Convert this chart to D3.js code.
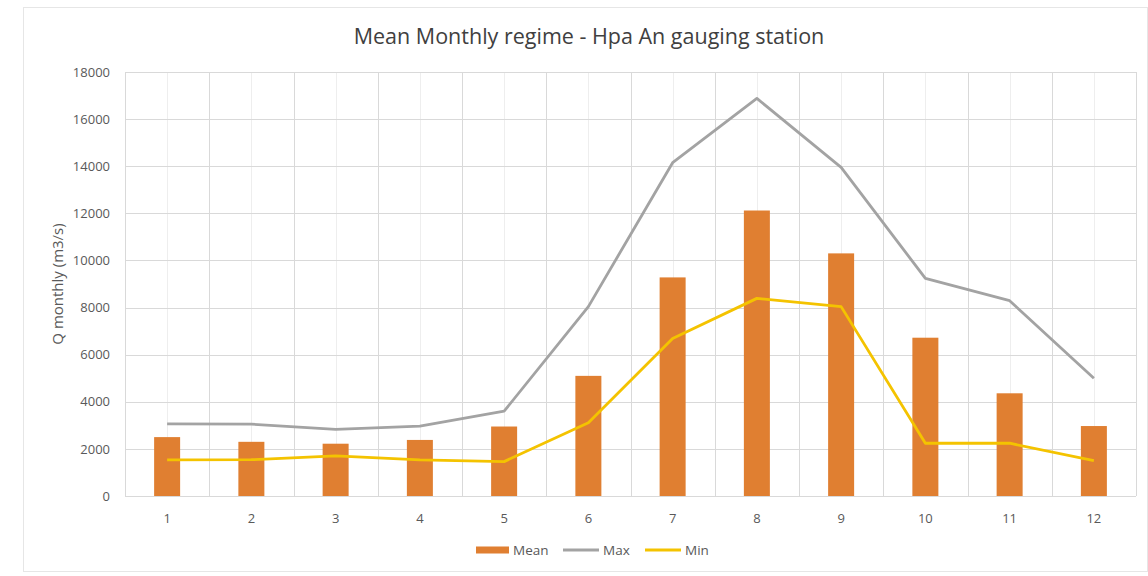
<!DOCTYPE html>
<html>
<head>
<meta charset="utf-8">
<script src="https://cdn.jsdelivr.net/npm/d3@7"></script>
<style>
  html, body { margin: 0; padding: 0; background: #fff; }
  svg { display: block; }
  text { font-family: "Open Sans", "Liberation Sans", sans-serif; }
</style>
</head>
<body>
<svg id="chart" width="1148" height="576"></svg>
<script>
// Monthly discharge statistics, Hpa An gauging station (m3/s)
const months = ["1", "2", "3", "4", "5", "6", "7", "8", "9", "10", "11", "12"];
const meanQ = [2500, 2300, 2220, 2380, 2950, 5100, 9280, 12120, 10300, 6720, 4360, 2970];
const maxQ  = [3060, 3050, 2830, 2970, 3600, 8040, 14150, 16880, 13950, 9240, 8290, 5000];
const minQ  = [1530, 1540, 1700, 1530, 1460, 3110, 6690, 8390, 8040, 2240, 2240, 1500];
const yTicks = [0, 2000, 4000, 6000, 8000, 10000, 12000, 14000, 16000, 18000];
const legendItems = ["Mean", "Max", "Min"];

const colors = { Mean: "#E07F31", Max: "#A3A3A3", Min: "#F4C300" };

const svg = d3.select("#chart");
const W = 1148, H = 576;
const m = { left: 125, right: 12, top: 72, bottom: 80 };
const iw = W - m.left - m.right, ih = H - m.top - m.bottom;

// outer frame
svg.append("rect").attr("x", 23.5).attr("y", 7.5).attr("width", W - 24).attr("height", 564)
  .attr("fill", "#fff").attr("stroke", "#E6E6E6");

const g = svg.append("g").attr("transform", `translate(${m.left},${m.top})`);

const x = d3.scaleBand().domain(months).range([0, iw]).padding(0);
const y = d3.scaleLinear().domain([0, 18000]).range([ih, 0]);

// faint lines through category centres
g.selectAll(".minor").data(months).join("line")
  .attr("x1", d => Math.round(x(d) + x.bandwidth() / 2) + 0.5)
  .attr("x2", d => Math.round(x(d) + x.bandwidth() / 2) + 0.5)
  .attr("y1", 0).attr("y2", ih).attr("stroke", "#EEEEEE").attr("stroke-width", 1);

// vertical lines at category boundaries
const bounds = months.map(d => x(d)).concat([iw]);
g.selectAll(".vgrid").data(bounds).join("line")
  .attr("x1", d => Math.round(d) + 0.5).attr("x2", d => Math.round(d) + 0.5)
  .attr("y1", 0).attr("y2", ih).attr("stroke", "#D9D9D9");

// horizontal gridlines
g.selectAll(".hgrid").data(yTicks).join("line")
  .attr("x1", 0).attr("x2", iw)
  .attr("y1", d => Math.round(y(d)) + 0.5).attr("y2", d => Math.round(y(d)) + 0.5)
  .attr("stroke", "#D9D9D9");

// y axis labels
const yAxis = d3.axisLeft(y).tickValues(yTicks).tickSize(0).tickPadding(15).tickFormat(d3.format("d"));
const ya = g.append("g").call(yAxis);
ya.select(".domain").remove();
ya.selectAll("text").attr("fill", "#595959").style("font-size", "13px");

// x axis labels
const xAxis = d3.axisBottom(x).tickSize(0).tickPadding(18);
const xa = g.append("g").attr("transform", `translate(0,${ih})`).call(xAxis);
xa.select(".domain").remove();
xa.selectAll("text").attr("fill", "#595959").style("font-size", "13px");

// mean bars
const barW = 26;
g.selectAll(".bar").data(months).join("rect")
  .attr("x", d => x(d) + x.bandwidth() / 2 - barW / 2)
  .attr("y", (d, i) => y(meanQ[i]))
  .attr("width", barW)
  .attr("height", (d, i) => y(0) - y(meanQ[i]))
  .attr("fill", colors.Mean);

// max and min lines
const line = d3.line()
  .x((d, i) => x(months[i]) + x.bandwidth() / 2)
  .y(d => y(d));
g.append("path").datum(maxQ).attr("d", line).attr("fill", "none")
  .attr("stroke", colors.Max).attr("stroke-width", 2.8).attr("stroke-linejoin", "round");
g.append("path").datum(minQ).attr("d", line).attr("fill", "none")
  .attr("stroke", colors.Min).attr("stroke-width", 2.8).attr("stroke-linejoin", "round");

// title
svg.append("text").attr("x", 589).attr("y", 44).attr("text-anchor", "middle")
  .attr("fill", "#404040").style("font-size", "21.5px")
  .text("Mean Monthly regime - Hpa An gauging station");

// y axis title
svg.append("text").attr("transform", "translate(63,284) rotate(-90)")
  .attr("text-anchor", "middle").attr("fill", "#595959").style("font-size", "15px")
  .text("Q monthly (m3/s)");

// legend
const legend = svg.append("g").attr("transform", "translate(476,550)");
const legendX = [0, 87, 169];
legendItems.forEach((name, i) => {
  const lg = legend.append("g").attr("transform", `translate(${legendX[i]},0)`);
  if (name === "Mean") {
    lg.append("rect").attr("x", 0).attr("y", -3.5).attr("width", 33).attr("height", 7).attr("fill", colors[name]);
  } else {
    lg.append("line").attr("x1", 0).attr("x2", 36).attr("y1", 0).attr("y2", 0)
      .attr("stroke", colors[name]).attr("stroke-width", 2.8);
  }
  lg.append("text").attr("x", name === "Mean" ? 37 : 40).attr("y", 5)
    .attr("fill", "#595959").style("font-size", "13.5px").text(name);
});
</script>
</body>
</html>
